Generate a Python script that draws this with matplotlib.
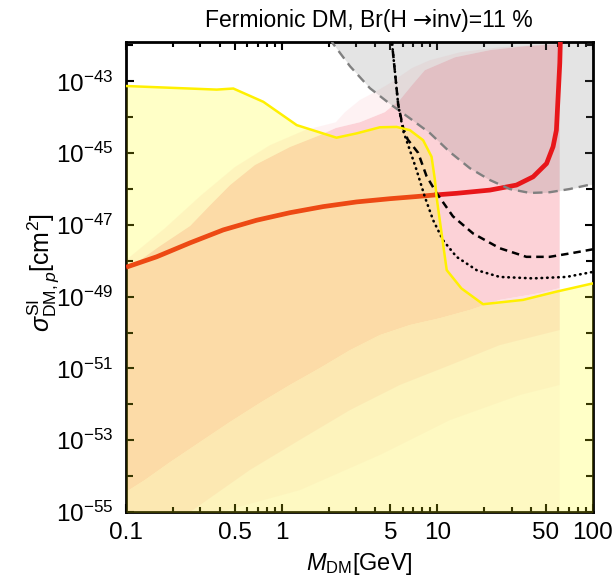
import numpy as np
import matplotlib
matplotlib.use('Agg')
import matplotlib.pyplot as plt
from matplotlib.ticker import FixedLocator, NullFormatter, FuncFormatter

plt.rcParams['font.family'] = ['Liberation Sans', 'DejaVu Sans']
plt.rcParams['mathtext.fontset'] = 'custom'
plt.rcParams['mathtext.rm'] = 'Liberation Sans'
plt.rcParams['mathtext.it'] = 'Liberation Sans:italic'
plt.rcParams['mathtext.bf'] = 'Liberation Sans:bold'

# yellow boundary (M_DM in GeV, log10 sigma in cm^2)
yel_m = [0.1, 0.382, 0.489, 0.762, 1.25, 2.25, 3.03, 4.28, 5.48, 6.67, 8.11, 9.19,
         9.66, 9.9, 10.1, 11.5, 14.3, 19.7, 35.6, 58.3, 100]
yel_s = [-43.13, -43.23, -43.2, -43.57, -44.22, -44.57, -44.45, -44.28, -44.27, -44.36,
         -44.64, -45.10, -45.75, -46.22, -46.50, -48.26, -48.77, -49.21, -49.09, -48.86, -48.63]

# gray dashed exclusion boundary
gray_m = [2.05, 2.13, 2.75, 3.69, 4.97, 6.67, 8.96, 12.05, 16.2, 21.8, 29.2, 39.4, 52.8, 71.1, 100]
gray_s = [-41.8, -41.94, -42.58, -43.19, -43.63, -44.03, -44.44, -44.97, -45.42, -45.75,
          -46.00, -46.11, -46.09, -46.00, -45.86]

# red curve
red_m = [0.1, 0.157, 0.258, 0.421, 0.69, 1.13, 1.85, 3.03, 4.97, 7.36, 9.42, 13.3, 21.8,
         32.3, 41.3, 50.4, 55.5, 58.3, 59.8, 61.3, 61.9]
red_s = [-48.18, -47.89, -47.50, -47.14, -46.87, -46.66, -46.49, -46.36, -46.27, -46.21,
         -46.17, -46.12, -46.03, -45.89, -45.66, -45.29, -44.82, -44.36, -43.42, -42.49, -41.8]

# black dotted and dashed curves
dot_m = [5.08, 5.34, 5.61, 6.04, 6.67, 7.36, 8.32, 9.41, 10.9, 13.3, 17.9, 25.2, 41.3, 67.6, 100]
dot_s = [-41.8, -42.72, -43.65, -44.38, -44.92, -45.47, -46.22, -46.87, -47.43, -47.89,
         -48.26, -48.45, -48.49, -48.45, -48.31]
dash_m = [5.08, 5.34, 5.61, 6.04, 6.46, 7.53, 8.53, 9.89, 12.6, 17.0, 25.2, 37.4, 52.8, 74.7, 100]
dash_s = [-41.8, -42.72, -43.65, -44.30, -44.62, -44.99, -45.64, -46.11, -46.76, -47.24,
          -47.65, -47.89, -47.89, -47.78, -47.68]

# scan points, drawn as density outlines
dense_m = [0.1, 0.165, 0.258, 0.347, 0.466, 0.674, 1.13, 1.76, 2.23, 3.18, 4.60, 5.75, 6.87,
           8.32, 13.0, 21.8, 36.6, 61.2, 61.2, 45.6, 25.2, 16.2, 10.4, 6.67, 4.28,
           2.75, 1.76, 1.13, 0.726, 0.466, 0.299, 0.192, 0.132, 0.1]
dense_s = [-48.26, -47.59, -47.03, -46.45, -45.89, -45.33, -44.83, -44.50, -44.30, -44.14,
           -43.86, -43.52, -43.11, -42.69, -42.33, -42.13, -42.02, -41.96, -48.76,
           -48.90, -49.09, -49.37, -49.60, -49.79, -50.07, -50.49, -50.99, -51.46, -51.96,
           -52.49, -53.05, -53.61, -54.11, -54.44]
halo_m = [0.1, 0.178, 0.299, 0.5, 0.84, 1.41, 2.23, 2.55, 3.18, 3.97, 4.97, 5.75, 6.87,
          8.96, 14.0, 25.2, 61.2, 61.2, 36.6, 21.8, 13.0, 8.32, 6.87, 5.75, 4.60, 3.18,
          2.23, 1.76, 1.13, 0.674, 0.466, 0.347, 0.258, 0.165, 0.1]
halo_s = [-47.98, -47.09, -46.2, -45.39, -44.78, -44.36, -44.14, -43.86, -43.52, -43.30,
          -43.05, -42.86, -42.63, -42.41, -42.19, -42.05, -41.94, -41.96, -42.02, -42.13,
          -42.33, -42.69, -43.11, -43.52, -43.86, -44.14, -44.30, -44.50, -44.83, -45.33,
          -45.89, -46.45, -47.03, -47.59, -48.26]
# lower edges of the thinning cloud below the dense part (left to right)
mid_m = [0.1, 0.258, 0.625, 1.31, 2.75, 5.75, 12.05, 25.2, 61.2]
mid_s = [-55.0, -55.0, -53.83, -52.99, -52.16, -51.46, -50.91, -50.35, -49.93]
thin_m = [0.1, 0.402, 1.31, 4.28, 12.05, 34.0, 61.2]
thin_s = [-55.0, -55.0, -54.39, -53.41, -52.44, -51.74, -51.46]

pink = '#fcd2d7'

fig = plt.figure(figsize=(6.15, 5.84), dpi=100)
ax = fig.add_axes([0.205, 0.1233, 0.759, 0.805])
ax.set_xscale('log')
ax.set_yscale('log')

p = lambda s: 10.0 ** np.array(s)

# lower edge of the dense cloud, right to left
edge_m = dense_m[18:]
edge_s = dense_s[18:]

# nested bands below the dense cloud: whole lower area, then thicker parts on top
ax.fill(edge_m + [0.1, 61.2], p(edge_s + [-55.0, -55.0]), color=pink, alpha=0.14, lw=0, zorder=1)
ax.fill(edge_m + thin_m, p(edge_s + thin_s), color=pink, alpha=0.2, lw=0, zorder=1)
ax.fill(edge_m + mid_m, p(edge_s + mid_s), color=pink, alpha=0.45, lw=0, zorder=1)
ax.fill(halo_m, p(halo_s), color=pink, alpha=0.28, lw=0, zorder=1)
ax.fill(dense_m, p(dense_s), color=pink, alpha=1.0, lw=0, zorder=1)

ax.fill_between(gray_m, p(gray_s), 1e-41, color='#7a7a7a', alpha=0.2, lw=0, zorder=2)

ax.plot(red_m, p(red_s), color='#e8161a', lw=3.4, zorder=3, solid_capstyle='butt')

ax.fill_between(yel_m, p(yel_s), 1e-56, color='#ffff00', alpha=0.22, lw=0, zorder=4)

ax.plot(gray_m, p(gray_s), color='#808080', lw=1.7, ls=(0, (4, 2.5)), zorder=5)
ax.plot(dot_m, p(dot_s), color='black', lw=1.9, ls=(0, (0.2, 1.9)), zorder=5,
        dash_capstyle='round')
ax.plot(dash_m, p(dash_s), color='black', lw=1.8, ls=(0, (3, 2)), zorder=5)
ax.plot(yel_m, p(yel_s), color='#fff000', lw=1.8, zorder=6)

ax.set_xlim(0.1, 100)
ax.set_ylim(1e-55, 10 ** -41.9)

xmaj = [0.1, 0.5, 1, 5, 10, 50, 100]
xmin = [0.2, 0.3, 0.4, 0.6, 0.7, 0.8, 0.9, 2, 3, 4, 6, 7, 8, 9, 20, 30, 40, 60, 70, 80, 90]
ax.xaxis.set_major_locator(FixedLocator(xmaj))
ax.xaxis.set_minor_locator(FixedLocator(xmin))
ax.xaxis.set_major_formatter(FuncFormatter(lambda v, _: '%g' % v))
ax.xaxis.set_minor_formatter(NullFormatter())

ymaj = [10.0 ** e for e in range(-55, -42, 2)]
ymin = [10.0 ** e for e in range(-54, -41, 2)]
ax.yaxis.set_major_locator(FixedLocator(ymaj))
ax.yaxis.set_minor_locator(FixedLocator(ymin))
ax.yaxis.set_major_formatter(FuncFormatter(lambda v, _: r'$10^{%d}$' % round(np.log10(v))))
ax.yaxis.set_minor_formatter(NullFormatter())

ax.tick_params(which='both', direction='in', top=True, right=True, width=1.5,
               labelsize=17.5)
ax.tick_params(axis='x', which='both', pad=7)
ax.tick_params(axis='y', which='both', pad=9)
ax.tick_params(which='major', length=5.5)
ax.tick_params(which='minor', length=3.5)
ax.tick_params(axis='y', which='minor', length=5)
for sp in ax.spines.values():
    sp.set_linewidth(2)

ax.set_xlabel(r'$M_{\rm DM}$[GeV]', fontsize=17, labelpad=5)
ax.set_ylabel(r'$\sigma^{\rm SI}_{{\rm DM},p}$[cm$^2$]', fontsize=18)
ax.yaxis.set_label_coords(-0.14, 0.51)

# title in three pieces so the arrow can come from DejaVu Sans
fig.canvas.draw()
rend = fig.canvas.get_renderer()
tx = 205.0
ty = 1 - 27.0 / 584
for piece, fam in [('Fermionic DM, Br(H ', 'Liberation Sans'), (u'\u2192', 'DejaVu Sans'),
                   ('inv)=11 %', 'Liberation Sans')]:
    t = fig.text(tx / fig.bbox.width, ty, piece, fontsize=16.5, family=fam, va='baseline')
    tx = t.get_window_extent(rend).x1

fig.savefig('out.png', dpi=100)
